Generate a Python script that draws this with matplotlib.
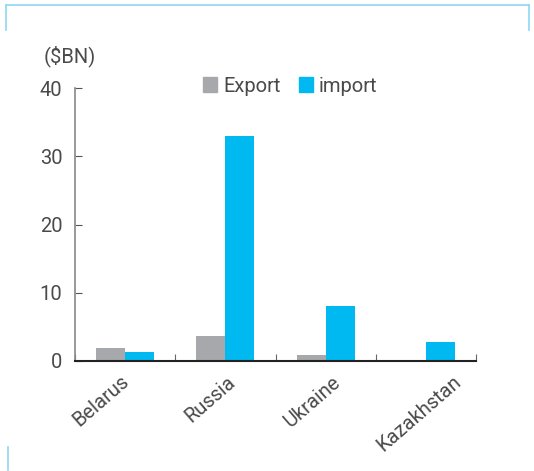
import numpy as np
import matplotlib.pyplot as plt
from matplotlib.lines import Line2D
from matplotlib.patches import Patch

# trade with neighbours, $BN
countries = ["Belarus", "Russia", "Ukraine", "Kazakhstan"]
export_vals = [1.9, 3.7, 0.9, 0.0]
import_vals = [1.3, 33.0, 8.0, 2.8]

GRAY = "#a7a8ab"
BLUE = "#00b9f0"
TEXT = "#4a4a4a"

plt.rcParams["font.family"] = ["Roboto", "DejaVu Sans"]

fig = plt.figure(figsize=(5.34, 4.71), dpi=100)
ax = fig.add_axes([75 / 534, 1 - 361 / 471, 401 / 534, 273 / 471])

x = np.arange(len(countries))
w = 0.29
ax.bar(x - w / 2, export_vals, w, color=GRAY, label="Export")
ax.bar(x + w / 2, import_vals, w, color=BLUE, label="import")

ax.set_xlim(-0.5, len(countries) - 0.5)
ax.set_ylim(0, 40)
ax.set_yticks([0, 10, 20, 30, 40])
ax.tick_params(axis="y", direction="in", length=5, color="#555555",
               labelsize=14.5, labelcolor=TEXT, pad=9)

# category separators on the x axis
ax.set_xticks(np.arange(len(countries) + 1) - 0.5)
ax.set_xticklabels([])
ax.tick_params(axis="x", direction="in", length=5, color="#666666")

# rotated category names, nudged right a little per label
nudge = [0.08, 0.14, 0.19, 0.39]
for i, c in enumerate(countries):
    ax.text(i + nudge[i], -11 / 273, c, transform=ax.get_xaxis_transform(),
            rotation=41, ha="right", va="top",
            fontsize=14.5, color=TEXT)

for s in ["top", "right"]:
    ax.spines[s].set_visible(False)
ax.spines["left"].set_color("#888888")
ax.spines["left"].set_linewidth(1.2)
ax.spines["bottom"].set_color("#222222")
ax.spines["bottom"].set_linewidth(1.5)

fig.text(44 / 534, 1 - 56 / 471, "($BN)", fontsize=14.5, color=TEXT,
         va="center", ha="left")

handles = [Patch(color=GRAY), Patch(color=BLUE)]
fig.legend(handles, ["Export", "import"], loc="center left",
           bbox_to_anchor=(203 / 534, 1 - 86 / 471), ncol=2, frameon=False,
           borderpad=0, borderaxespad=0,
           fontsize=14.5, handlelength=0.7, handleheight=0.7,
           handletextpad=0.3, columnspacing=0.9, labelcolor=TEXT)

# light blue frame pieces
frame = "#8fd8f5"
fig.add_artist(Line2D([6 / 534, 529 / 534], [1 - 5 / 471, 1 - 5 / 471],
                      color=frame, lw=1.2))
fig.add_artist(Line2D([6 / 534, 6 / 534], [1 - 5 / 471, 1 - 30 / 471],
                      color=frame, lw=1.2))
fig.add_artist(Line2D([529 / 534, 529 / 534], [1 - 5 / 471, 1 - 30 / 471],
                      color=frame, lw=1.2))
fig.add_artist(Line2D([8 / 534, 8 / 534], [1 - 447 / 471, 1 - 470 / 471],
                      color=frame, lw=1.2))

fig.savefig("out.png", dpi=100)
